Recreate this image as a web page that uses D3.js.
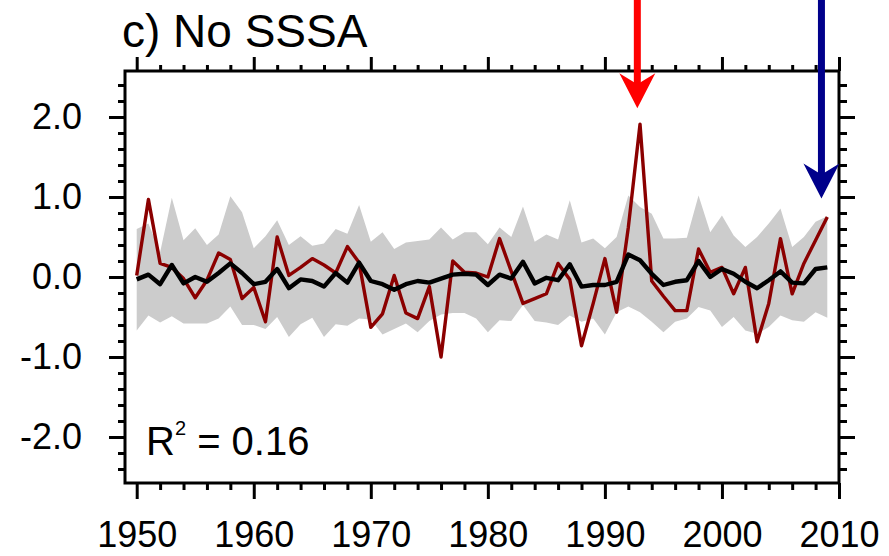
<!DOCTYPE html>
<html>
<head>
<meta charset="utf-8">
<script src="https://cdn.jsdelivr.net/npm/d3@7"></script>
<style>
  html, body { margin: 0; padding: 0; background: #fff; }
  svg { display: block; }
  text { font-family: "Liberation Sans", Arial, Helvetica, sans-serif; fill: #000; }
</style>
</head>
<body>
<svg id="chart" width="889" height="556"></svg>
<script>
// ---------- data ----------
const years = d3.range(1950, 2010);
const observed = [
  0.02, 0.97, 0.17, 0.12, -0.02, -0.26, -0.04, 0.30, 0.22, -0.27,
  -0.13, -0.56, 0.50, 0.02, 0.12, 0.23, 0.15, 0.05, 0.38, 0.18,
  -0.63, -0.46, 0.02, -0.45, -0.52, -0.12, -1.00, 0.20, 0.06, 0.05,
  0.00, 0.48, 0.07, -0.33, -0.27, -0.21, 0.17, -0.03, -0.86, -0.33,
  0.23, -0.44, 0.62, 1.91, -0.05, -0.24, -0.42, -0.42, 0.35, 0.06,
  0.12, -0.21, 0.12, -0.81, -0.33, 0.48, -0.21, 0.17, 0.46, 0.75
];
const ensembleMean = [
  -0.03, 0.03, -0.09, 0.15, -0.08, 0.00, -0.06, 0.05, 0.17, 0.05,
  -0.09, -0.06, 0.10, -0.14, -0.03, -0.05, -0.12, 0.05, -0.07, 0.18,
  -0.05, -0.09, -0.16, -0.09, -0.05, -0.07, -0.02, 0.03, 0.04, 0.03,
  -0.10, 0.03, -0.02, 0.19, -0.08, -0.01, -0.04, 0.16, -0.12, -0.10,
  -0.10, -0.06, 0.28, 0.21, 0.04, -0.10, -0.06, -0.04, 0.20, 0.00,
  0.10, 0.04, -0.06, -0.14, -0.04, 0.07, -0.07, -0.08, 0.10, 0.12
];
const spreadUpper = [
  0.60, 0.67, 0.31, 0.99, 0.46, 0.61, 0.40, 0.53, 1.01, 0.81,
  0.36, 0.51, 0.71, 0.40, 0.51, 0.39, 0.42, 0.60, 0.54, 0.90,
  0.44, 0.56, 0.35, 0.43, 0.45, 0.47, 0.62, 0.47, 0.56, 0.56,
  0.41, 0.62, 0.50, 0.88, 0.44, 0.53, 0.47, 0.96, 0.43, 0.48,
  0.36, 0.50, 1.02, 0.875, 0.79, 0.48, 0.48, 0.49, 1.02, 0.56,
  0.77, 0.52, 0.375, 0.50, 0.67, 0.855, 0.375, 0.50, 0.69, 0.76
];
const spreadLower = [
  -0.67, -0.48, -0.57, -0.49, -0.58, -0.58, -0.58, -0.52, -0.37, -0.60,
  -0.60, -0.65, -0.50, -0.75, -0.59, -0.51, -0.75, -0.59, -0.61, -0.52,
  -0.53, -0.72, -0.65, -0.58, -0.69, -0.55, -0.47, -0.45, -0.45, -0.52,
  -0.69, -0.54, -0.55, -0.35, -0.55, -0.57, -0.60, -0.48, -0.56, -0.52,
  -0.72, -0.44, -0.37, -0.44, -0.56, -0.69, -0.56, -0.52, -0.375, -0.42,
  -0.625, -0.50, -0.67, -0.71, -0.625, -0.48, -0.54, -0.56, -0.44, -0.51
];
const xTickValues = [1950, 1960, 1970, 1980, 1990, 2000, 2010];
const yTickValues = [-2.0, -1.0, 0.0, 1.0, 2.0];
const yTickLabels = ["-2.0", "-1.0", "0.0", "1.0", "2.0"];
const arrowYears = [1992.77, 2008.5];   // red (1993 event), blue (recent)
const arrowTips = [2.11, 0.98];
const titleText = "c) No SSSA";
const r2Value = "0.16";

// ---------- layout ----------
const L = 125, R = 839, T = 71, B = 483;
const svg = d3.select("#chart");
const x = d3.scaleLinear().domain([1949, 2010]).range([L, R]);
const y = d3.scaleLinear().domain([-2.575, 2.575]).range([B, T]);

const rows = years.map((yr, i) => ({
  yr, obs: observed[i], mean: ensembleMean[i], lo: spreadLower[i], hi: spreadUpper[i]
}));

// spread band
svg.append("path")
  .datum(rows)
  .attr("fill", "#cccccc")
  .attr("d", d3.area().x(d => x(d.yr)).y0(d => y(d.lo)).y1(d => y(d.hi)));

// observed (dark red)
svg.append("path")
  .datum(rows)
  .attr("fill", "none")
  .attr("stroke", "#8b0000")
  .attr("stroke-width", 3.4)
  .attr("stroke-linejoin", "round")
  .attr("d", d3.line().x(d => x(d.yr)).y(d => y(d.obs)));

// ensemble mean (black)
svg.append("path")
  .datum(rows)
  .attr("fill", "none")
  .attr("stroke", "#000")
  .attr("stroke-width", 4.4)
  .attr("stroke-linejoin", "round")
  .attr("d", d3.line().x(d => x(d.yr)).y(d => y(d.mean)));

// ---------- axes ----------
const MAJ = 16, MIN = 7;
const xMinor = d3.range(1950, 2011, 2).filter(v => v % 10 !== 0);
const yMinor = d3.range(-24, 25, 2).map(v => v / 10).filter(v => Math.abs(v * 10) % 10 !== 0);

function styleAxis(g) {
  g.select(".domain").remove();
  g.selectAll(".tick line").attr("stroke", "#000").attr("stroke-width", 3);
  g.selectAll(".tick text").attr("font-size", 36).attr("fill", "#000")
    .style("font-family", '"Liberation Sans", Arial, sans-serif');
}

// bottom
svg.append("g").attr("transform", `translate(0,${B})`)
  .call(d3.axisBottom(x).tickValues(xTickValues).tickFormat(d3.format("d")).tickSize(MAJ).tickPadding(22))
  .call(styleAxis);
svg.append("g").attr("transform", `translate(0,${B})`)
  .call(d3.axisBottom(x).tickValues(xMinor).tickFormat("").tickSize(MIN))
  .call(styleAxis);
// top
svg.append("g").attr("transform", `translate(0,${T})`)
  .call(d3.axisTop(x).tickValues(xTickValues).tickFormat("").tickSize(MAJ - 2))
  .call(styleAxis);
svg.append("g").attr("transform", `translate(0,${T})`)
  .call(d3.axisTop(x).tickValues(xMinor).tickFormat("").tickSize(MIN - 1))
  .call(styleAxis);
// left
svg.append("g").attr("transform", `translate(${L},0)`)
  .call(d3.axisLeft(y).tickValues(yTickValues).tickFormat((d, i) => yTickLabels[i]).tickSize(MAJ).tickPadding(27))
  .call(styleAxis);
svg.append("g").attr("transform", `translate(${L},0)`)
  .call(d3.axisLeft(y).tickValues(yMinor).tickFormat("").tickSize(MIN))
  .call(styleAxis);
// right
svg.append("g").attr("transform", `translate(${R},0)`)
  .call(d3.axisRight(y).tickValues(yTickValues).tickFormat("").tickSize(MAJ))
  .call(styleAxis);
svg.append("g").attr("transform", `translate(${R},0)`)
  .call(d3.axisRight(y).tickValues(yMinor).tickFormat("").tickSize(MIN + 1))
  .call(styleAxis);

// frame
svg.append("rect")
  .attr("x", L).attr("y", T).attr("width", R - L).attr("height", B - T)
  .attr("fill", "none").attr("stroke", "#000").attr("stroke-width", 3);

// ---------- arrows ----------
const arrowColors = ["#ff0000", "#00008b"];
arrowYears.forEach((yr, i) => {
  const cx = x(yr), tip = y(arrowTips[i]);
  const headLen = 35, half = 18;
  svg.append("line")
    .attr("x1", cx).attr("x2", cx).attr("y1", 0).attr("y2", tip - headLen + 12)
    .attr("stroke", arrowColors[i]).attr("stroke-width", 7);
  svg.append("path")
    .attr("fill", arrowColors[i])
    .attr("d", `M${cx},${tip} L${cx + half},${tip - headLen} L${cx},${tip - headLen + 11} L${cx - half},${tip - headLen} Z`);
});

// ---------- text ----------
svg.append("text").attr("x", 122).attr("y", 47)
  .attr("font-size", 46).text(titleText);

const r2 = svg.append("text").attr("x", 146).attr("y", 455).attr("font-size", 40);
r2.append("tspan").text("R");
r2.append("tspan").attr("font-size", 20).attr("dy", -20).text("2");
r2.append("tspan").attr("dy", 20).text(" = " + r2Value);
</script>
</body>
</html>
